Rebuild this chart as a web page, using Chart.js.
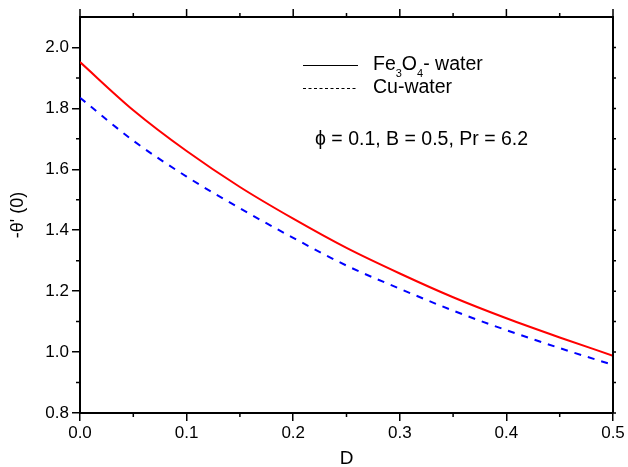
<!DOCTYPE html>
<html>
<head>
<meta charset="utf-8">
<script src="https://cdn.jsdelivr.net/npm/chart.js@4"></script>
<style>
  html, body { margin: 0; padding: 0; background: #fff; }
  #wrap { width: 628px; height: 467px; }
</style>
</head>
<body>
<div id="wrap"><canvas id="c" width="628" height="467"></canvas></div>
<script>
// ---- data ----
const dValues = [0, 0.05, 0.1, 0.15, 0.2, 0.25, 0.3, 0.35, 0.4, 0.45, 0.5];
const fe3o4Water = [1.952, 1.794, 1.660, 1.542, 1.438, 1.342, 1.258, 1.180, 1.111, 1.048, 0.988];
const cuWater = [1.835, 1.694, 1.576, 1.472, 1.375, 1.284, 1.208, 1.136, 1.072, 1.013, 0.958];
const xMinorTicks = [0.05, 0.15, 0.25, 0.35, 0.45];
const xMajorTicks = [0, 0.1, 0.2, 0.3, 0.4, 0.5];
const yMinorTicks = [0.9, 1.1, 1.3, 1.5, 1.7, 1.9];
const yMajorTicks = [0.8, 1.0, 1.2, 1.4, 1.6, 1.8, 2.0];
const legendLabels = ['Fe', '3', 'O', '4', '- water', 'Cu-water'];
const annotationText = '\u03D5 = 0.1, B = 0.5, Pr = 6.2';

const FONT = '"Liberation Sans", Arial, Helvetica, sans-serif';

const framePlugin = {
  id: 'frame',
  afterDraw(chart) {
    const ctx = chart.ctx;
    const a = chart.chartArea;
    const xs = chart.scales.x, ys = chart.scales.y;
    ctx.save();
    ctx.strokeStyle = '#000';
    // top and right borders
    ctx.lineWidth = 2;
    ctx.beginPath();
    ctx.moveTo(a.left - 1, a.top); ctx.lineTo(a.right + 1, a.top);
    ctx.moveTo(a.right, a.top); ctx.lineTo(a.right, a.bottom);
    ctx.stroke();
    ctx.lineWidth = 1.5;
    ctx.beginPath();
    xMajorTicks.forEach(v => { const p = xs.getPixelForValue(v); ctx.moveTo(p, a.top); ctx.lineTo(p, a.top - 8); });
    xMinorTicks.forEach(v => { const p = xs.getPixelForValue(v); ctx.moveTo(p, a.top); ctx.lineTo(p, a.top - 4); });
    xMinorTicks.forEach(v => { const p = xs.getPixelForValue(v); ctx.moveTo(p, a.bottom); ctx.lineTo(p, a.bottom + 4); });
    yMinorTicks.forEach(v => { const p = ys.getPixelForValue(v); ctx.moveTo(a.left, p); ctx.lineTo(a.left - 4, p); });
    yMajorTicks.concat(yMinorTicks).forEach(v => { const p = ys.getPixelForValue(v); ctx.moveTo(a.right, p); ctx.lineTo(a.right + 3, p); });
    ctx.stroke();

    // legend
    ctx.lineWidth = 1;
    ctx.beginPath();
    ctx.moveTo(303, 65.5); ctx.lineTo(358, 65.5);
    ctx.stroke();
    ctx.setLineDash([3, 2.5]);
    ctx.beginPath();
    ctx.moveTo(303, 88.5); ctx.lineTo(358, 88.5);
    ctx.stroke();
    ctx.setLineDash([]);

    ctx.fillStyle = '#000';
    ctx.textBaseline = 'alphabetic';
    ctx.textAlign = 'left';
    const big = '19.5px ' + FONT, small = '11px ' + FONT;
    let x = 373; const base1 = 70;
    ctx.font = big; ctx.fillText(legendLabels[0], x, base1); x += ctx.measureText(legendLabels[0]).width;
    ctx.font = small; ctx.fillText(legendLabels[1], x, base1 + 7); x += ctx.measureText(legendLabels[1]).width;
    ctx.font = big; ctx.fillText(legendLabels[2], x, base1); x += ctx.measureText(legendLabels[2]).width;
    ctx.font = small; ctx.fillText(legendLabels[3], x, base1 + 7); x += ctx.measureText(legendLabels[3]).width;
    ctx.font = big; ctx.fillText(legendLabels[4], x, base1);
    ctx.fillText(legendLabels[5], 373, 93);
    ctx.font = '19.5px ' + FONT;
    ctx.fillText(annotationText, 315, 145);
    ctx.restore();
  }
};

new Chart(document.getElementById('c'), {
  type: 'line',
  data: {
    datasets: [
      {
        label: 'Fe3O4- water',
        data: dValues.map((d, i) => ({ x: d, y: fe3o4Water[i] })),
        borderColor: '#ff0000',
        borderWidth: 2,
        pointRadius: 0,
        cubicInterpolationMode: 'monotone',
        fill: false
      },
      {
        label: 'Cu-water',
        data: dValues.map((d, i) => ({ x: d, y: cuWater[i] })),
        borderColor: '#0000ff',
        borderWidth: 2,
        borderDash: [7, 7],
        pointRadius: 0,
        cubicInterpolationMode: 'monotone',
        fill: false
      }
    ]
  },
  options: {
    responsive: false,
    animation: false,
    layout: { padding: { left: 0, right: 15, top: 17, bottom: 0 } },
    plugins: { legend: { display: false }, tooltip: { enabled: false } },
    scales: {
      x: {
        type: 'linear',
        min: 0, max: 0.5,
        afterFit: s => { s.height = 54; },
        ticks: { stepSize: 0.1, color: '#000', font: { family: FONT, size: 17 }, padding: 2, maxRotation: 0,
                 callback: v => Number(v).toFixed(1) },
        grid: { drawOnChartArea: false, drawTicks: true, tickLength: 8, color: '#000', lineWidth: 1.5 },
        border: { color: '#000', width: 2 },
        title: { display: true, text: 'D', color: '#000', font: { family: FONT, size: 19 }, padding: { top: 0, bottom: -3 } }
      },
      y: {
        type: 'linear',
        min: 0.8, max: 2.1,
        afterFit: s => { s.width = 80; },
        ticks: { stepSize: 0.2, includeBounds: false, color: '#000', font: { family: FONT, size: 17 }, padding: 3,
                 callback: v => Number(v).toFixed(1) },
        grid: { drawOnChartArea: false, drawTicks: true, tickLength: 8, color: '#000', lineWidth: 1.5 },
        border: { color: '#000', width: 2 },
        title: { display: true, text: "-\u03B8' (0)", color: '#000', font: { family: FONT, size: 18 }, padding: { top: 7, bottom: 0 } }
      }
    }
  },
  plugins: [framePlugin]
});
</script>
</body>
</html>
